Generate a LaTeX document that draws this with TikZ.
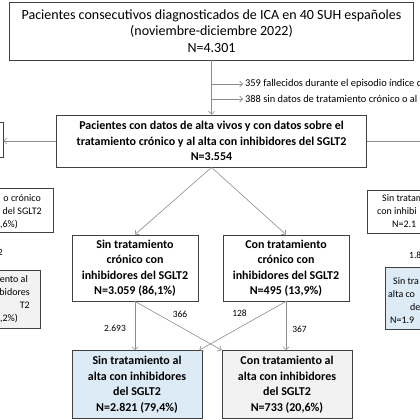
\documentclass[tikz,border=0pt]{standalone}
\usepackage{fontspec}
\setmainfont{Carlito}
\usetikzlibrary{arrows.meta}
\definecolor{boxblue}{HTML}{DDEBF7}
\definecolor{boxgray}{HTML}{F2F2F2}
\definecolor{linegray}{HTML}{8C8C8C}

\begin{document}
\begin{tikzpicture}[
    x=1pt, y=-1pt,
    font=\fontsize{10}{13}\selectfont,
    flowbox/.style={
        draw=black!75, line width=0.8pt, fill=white,
        align=center, inner sep=0pt
    },
    boldbox/.style={flowbox, font=\bfseries\fontsize{12}{15.5}\selectfont},
    sidebox/.style={draw=black!75, line width=0.8pt, fill=white, inner sep=0pt},
    arrow/.style={-{Straight Barb[length=3pt,width=6pt]}, draw=linegray, line width=0.6pt},
    link/.style={draw=linegray, line width=0.6pt},
    count/.style={font=\fontsize{9.5}{11}\selectfont, inner sep=1pt},
    note/.style={font=\fontsize{10.4}{12}\selectfont, anchor=west, inner sep=2pt},
    cut/.style={font=\fontsize{10}{13}\selectfont, inner sep=0pt}
]

\useasboundingbox (0,0) rectangle (420,420);
\clip (0,0) rectangle (420,420);

% Cohort and exclusions
\node[flowbox, minimum width=404pt, minimum height=58pt, font=\fontsize{14}{16.5}\selectfont] (cohort) at (211.5,31)
    {Pacientes consecutivos diagnosticados de ICA en 40 SUH españoles\\(noviembre-diciembre 2022)\\N=4.301};
\node[note] (excl1) at (243,84) {359 fallecidos durante el episodio índice d};
\node[note] (excl2) at (243,99) {388 sin datos de tratamiento crónico o al a};

\node[boldbox, minimum width=310pt, minimum height=52pt] (alive) at (211.5,141)
    {Pacientes con datos de alta vivos y con datos sobre el\\tratamiento crónico y al alta con inhibidores del SGLT2\\N=3.554};

% Chronic treatment
\node[boldbox, minimum width=126pt, minimum height=66pt] (noChronic) at (135,268)
    {Sin tratamiento\\crónico con\\inhibidores del SGLT2\\N=3.059 (86,1\%)};
\node[boldbox, minimum width=126pt, minimum height=66pt] (chronic) at (286,268)
    {Con tratamiento\\crónico con\\inhibidores del SGLT2\\N=495 (13,9\%)};

% Treatment at discharge
\node[boldbox, fill=boxblue, minimum width=130pt, minimum height=68pt] (noDischarge) at (137,384.5)
    {Sin tratamiento al\\alta con inhibidores\\del SGLT2\\N=2.821 (79,4\%)};
\node[boldbox, fill=boxgray, minimum width=130pt, minimum height=68pt] (discharge) at (287,384.5)
    {Con tratamiento al\\alta con inhibidores\\del SGLT2\\N=733 (20,6\%)};

% Side boxes cut by the frame
\node[sidebox, minimum width=130pt, minimum height=35pt] (sideA) at (-62,139.5) {};
\node[sidebox, minimum width=133pt, minimum height=44pt] (sideB) at (-13.5,210) {};
\node[sidebox, fill=boxgray, minimum width=140pt, minimum height=58pt] (sideC) at (-30,299) {};
\node[sidebox, minimum width=133pt, minimum height=43pt] (sideD) at (433.5,211.5) {};
\node[sidebox, fill=boxblue, minimum width=135pt, minimum height=62pt] (sideE) at (452.5,298) {};

\node[cut, anchor=east, align=right] (sideBtext) at (42,211.5) {o crónico\hspace*{1pt}\\del SGLT2\\,6\%)\hspace*{24pt}};
\node[cut, anchor=east, align=right] (sideCtext) at (30,299.5) {ento al\hspace*{2pt}\\bidores\\T2\hspace*{22pt}\\,2\%)\hspace*{12pt}};
\node[cut, anchor=west, align=left] (sideDtext) at (377,211.5) {\hspace*{5pt}Sin tratam\\con inhibi\\\hspace*{15pt}N=2.1};
\node[cut, anchor=west, align=left] (sideEtext) at (388,301) {\hspace*{5pt}Sin tra\\alta co\\\hspace*{22pt}de\\\hspace*{2pt}N=1.9};
\node[count, anchor=east] (cntLeft) at (4,252) {2};
\node[count, anchor=west] (cntRight) at (408,255) {1.8};

% Connectors
\draw[arrow] (cohort) -- (alive);
\draw[arrow] (cohort.south |- excl1.west) -- (excl1.west);
\draw[arrow] (cohort.south |- excl2.west) -- (excl2.west);
\draw[arrow] (alive.west) -- (alive.west -| sideA.east);
\coordinate (offRight) at (425,141);
\draw[link] (alive.east) -- (offRight);
\draw[arrow] (alive.south) -- (noChronic.north);
\draw[arrow] (alive.south) -- (chronic.north);
\draw[arrow] (noChronic.south) -- (noChronic.south |- noDischarge.north);
\draw[arrow] (noChronic.south) -- (discharge.north west);
\draw[arrow] (chronic.south) -- ([xshift=-3pt]noDischarge.north east);
\draw[arrow] (chronic.south) -- (chronic.south |- discharge.north);

% Counts on the connectors
\node[count] (n2693) at (115,328) {2.693};
\node[count] (n366) at (180,314) {366};
\node[count] (n128) at (239.5,313) {128};
\node[count] (n367) at (299.5,329) {367};

\end{tikzpicture}
\end{document}
